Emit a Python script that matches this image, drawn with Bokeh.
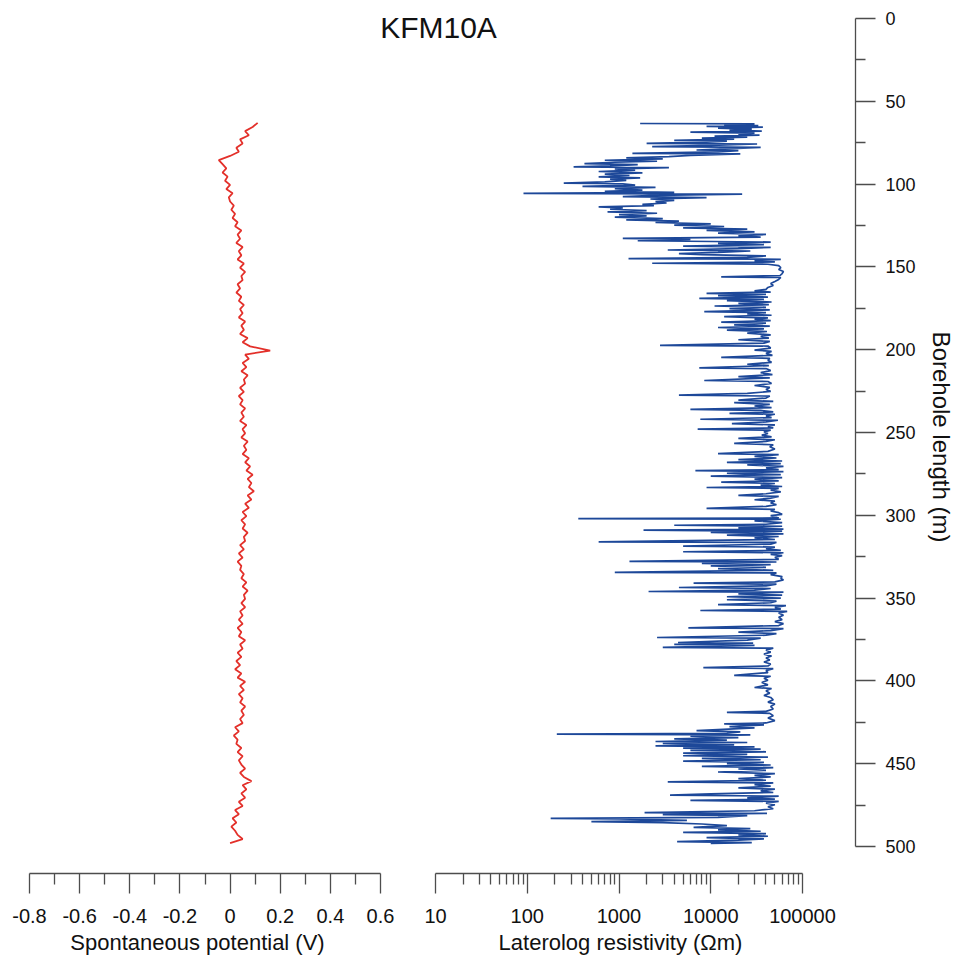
import numpy as np
from bokeh.plotting import figure
from bokeh.layouts import row, column
from bokeh.models import Range1d, FixedTicker, CustomJSTickFormatter, Label
from bokeh.embed import file_html
from bokeh.resources import INLINE

# ---------------------------------------------------------------- data
TITLE = "KFM10A"
SP_LABEL = "Spontaneous potential (V)"
RES_LABEL = "Laterolog resistivity (\u03a9m)"
DEPTH_LABEL = "Borehole length (m)"

sp_ticks = [-0.8, -0.6, -0.4, -0.2, 0.0, 0.2, 0.4, 0.6]
sp_minor = [-0.7, -0.5, -0.3, -0.1, 0.1, 0.3, 0.5]
res_ticks = [10, 100, 1000, 10000, 100000]
res_minor = [m * d for d in (10, 100, 1000, 10000) for m in range(2, 10)]
depth_ticks = list(range(0, 501, 50))
depth_minor = list(range(25, 500, 50))

# spontaneous potential (V), sampled every 2.5 m from 63 m
sp_first_depth = 63.0
sp_step = 2.5
sp_volt = [
    0.11, 0.09, 0.06, 0.075, 0.04, 0.05, 0.025, 0.035, 0.0, -0.045,
    -0.03, -0.015, -0.03, -0.01, -0.02, 0.0, -0.015, 0.01, -0.005, 0.0,
    0.015, 0.005, 0.02, 0.01, 0.03, 0.02, 0.045, 0.03, 0.04, 0.025,
    0.05, 0.035, 0.045, 0.03, 0.055, 0.04, 0.06, 0.045, 0.05, 0.03,
    0.04, 0.025, 0.045, 0.035, 0.055, 0.04, 0.05, 0.035, 0.06, 0.045,
    0.055, 0.04, 0.07, 0.05, 0.08, 0.16, 0.06, 0.075, 0.05, 0.065,
    0.045, 0.07, 0.055, 0.06, 0.04, 0.055, 0.035, 0.05, 0.04, 0.06,
    0.045, 0.055, 0.04, 0.065, 0.05, 0.06, 0.045, 0.07, 0.055, 0.065,
    0.05, 0.075, 0.06, 0.08, 0.065, 0.09, 0.07, 0.085, 0.075, 0.095,
    0.07, 0.085, 0.06, 0.075, 0.05, 0.065, 0.045, 0.06, 0.05, 0.07,
    0.055, 0.06, 0.04, 0.055, 0.035, 0.05, 0.03, 0.045, 0.04, 0.055,
    0.045, 0.065, 0.05, 0.07, 0.055, 0.06, 0.045, 0.06, 0.04, 0.05,
    0.035, 0.05, 0.03, 0.045, 0.035, 0.06, 0.04, 0.05, 0.03, 0.045,
    0.025, 0.04, 0.02, 0.045, 0.03, 0.06, 0.04, 0.055, 0.035, 0.05,
    0.04, 0.06, 0.045, 0.055, 0.04, 0.05, 0.02, 0.035, 0.015, 0.03,
    0.025, 0.045, 0.03, 0.05, 0.035, 0.045, 0.06, 0.04, 0.055, 0.085,
    0.05, 0.065, 0.045, 0.06, 0.035, 0.05, 0.02, 0.035, 0.01, 0.025,
    0.005, 0.02, 0.03, 0.05, 0.0,
]

# laterolog resistivity: depth (m) and ohm-m
res_depth = [
    63.4, 63.6, 64.2, 64.6, 65.2, 65.6, 66.2, 66.8,
    67.4, 68.0, 68.6, 69.2, 69.8, 70.4, 71.0, 71.6,
    72.2, 72.8, 73.6, 74.0, 74.6, 75.4, 75.8, 76.6,
    77.4, 77.8, 78.6, 79.4, 79.8, 80.6, 81.4, 81.8,
    82.6, 83.4, 84.2, 84.8, 85.6, 86.2, 86.8, 87.6,
    88.2, 89.0, 89.6, 90.0, 90.8, 91.6, 92.4, 93.2,
    94.0, 94.8, 95.6, 96.2, 97.0, 97.8, 98.6, 99.4,
    99.8, 100.6, 101.4, 102.0, 102.8, 103.6, 104.4, 105.0,
    105.6, 106.0, 106.8, 107.6, 108.2, 109.0, 109.8, 110.6,
    111.4, 112.2, 113.0, 113.8, 114.4, 115.2, 116.0, 116.8,
    117.6, 118.4, 119.2, 120.0, 120.8, 121.6, 122.4, 123.2,
    124.0, 124.8, 125.6, 126.4, 127.2, 128.0, 128.8, 129.6,
    130.4, 131.2, 132.0, 132.8, 133.4, 134.2, 135.0, 135.8,
    136.6, 137.4, 138.2, 139.0, 139.8, 140.4, 141.2, 142.0,
    142.6, 143.4, 144.2, 145.0, 145.4, 146.2, 147.0, 147.8,
    148.4, 149.2, 150.4, 151.6, 152.8, 154.0, 155.2, 156.0,
    156.4, 157.6, 158.8, 160.0, 161.2, 162.4, 163.6, 164.4,
    165.2, 166.0, 166.6, 167.4, 168.2, 169.0, 169.6, 170.4,
    171.2, 172.0, 172.8, 173.6, 174.4, 175.2, 176.0, 177.0,
    177.6, 178.4, 179.2, 180.0, 180.8, 181.6, 182.4, 183.4,
    184.0, 185.0, 185.8, 186.6, 187.4, 188.2, 189.0, 190.0,
    191.0, 192.0, 193.0, 194.0, 195.0, 196.0, 197.4, 197.8,
    199.0, 200.2, 201.0, 202.2, 203.4, 204.6, 205.2, 206.4,
    207.6, 208.8, 209.6, 211.0, 211.4, 212.6, 213.8, 215.0,
    216.2, 217.0, 218.6, 219.2, 220.4, 221.6, 222.8, 224.0,
    225.2, 226.4, 227.4, 228.0, 229.2, 230.4, 231.2, 232.0,
    233.0, 234.0, 235.0, 236.0, 236.6, 237.6, 238.4, 239.0,
    240.0, 241.0, 242.0, 242.6, 243.6, 244.6, 245.4, 246.4,
    247.2, 248.0, 248.6, 249.6, 250.6, 251.6, 252.6, 253.6,
    254.4, 255.4, 256.6, 257.4, 258.6, 260.0, 261.4, 262.7,
    263.4, 264.4, 265.4, 266.4, 267.2, 268.0, 268.8, 269.6,
    270.4, 271.4, 272.4, 273.0, 273.6, 274.6, 275.4, 276.4,
    277.2, 278.2, 279.2, 280.0, 280.8, 281.8, 282.6, 283.2,
    283.8, 284.8, 285.8, 287.0, 288.0, 288.6, 289.6, 290.6,
    291.4, 292.6, 293.6, 294.6, 295.8, 296.4, 297.4, 298.4,
    299.4, 300.2, 301.6, 302.0, 302.4, 303.4, 304.4, 305.4,
    306.0, 306.6, 307.6, 308.4, 309.0, 309.6, 310.4, 311.2,
    312.0, 312.8, 313.6, 314.6, 316.0, 316.4, 317.4, 318.6,
    319.2, 320.2, 321.2, 322.0, 322.6, 323.6, 324.4, 325.4,
    326.6, 327.8, 328.2, 329.0, 329.8, 330.6, 331.4, 332.2,
    333.2, 334.5, 334.8, 335.8, 337.0, 338.0, 339.0, 340.2,
    341.0, 341.6, 342.6, 343.6, 344.2, 345.2, 346.0, 346.4,
    347.4, 348.2, 349.2, 350.0, 351.0, 351.8, 352.8, 354.0,
    354.6, 355.6, 356.6, 357.5, 358.0, 359.0, 360.4, 361.6,
    363.0, 364.2, 365.4, 366.6, 368.0, 368.4, 369.6, 370.6,
    371.4, 372.4, 373.8, 374.2, 375.4, 376.8, 377.2, 378.0,
    378.6, 379.8, 380.2, 381.4, 382.6, 383.8, 385.0, 386.2,
    387.4, 388.6, 389.8, 391.0, 392.0, 392.6, 393.8, 395.0,
    396.7, 397.2, 398.4, 399.6, 401.0, 402.4, 404.0, 404.6,
    406.0, 407.4, 408.8, 410.0, 411.4, 412.8, 414.0, 415.4,
    417.0, 418.4, 419.0, 419.6, 421.0, 422.4, 424.0, 425.4,
    426.0, 426.6, 427.6, 428.4, 429.4, 430.0, 430.8, 431.6,
    432.2, 432.6, 433.4, 434.2, 435.0, 435.8, 436.6, 437.2,
    437.8, 438.6, 439.2, 439.8, 440.6, 441.2, 442.0, 442.8,
    443.6, 444.4, 445.2, 446.0, 446.8, 447.6, 448.4, 449.2,
    450.0, 450.8, 451.6, 452.4, 453.2, 454.0, 455.0, 456.0,
    457.0, 458.0, 459.0, 460.0, 461.0, 461.6, 462.6, 463.6,
    464.6, 465.4, 466.4, 467.4, 468.2, 469.0, 469.6, 470.6,
    471.4, 472.2, 472.8, 473.8, 474.8, 476.0, 477.2, 478.4,
    479.6, 480.0, 480.8, 481.4, 482.4, 483.0, 483.4, 484.2,
    485.0, 485.6, 486.4, 487.4, 488.4, 489.2, 490.0, 490.8,
    491.5, 492.2, 493.0, 493.8, 494.6, 495.4, 496.2, 497.0,
    497.6, 498.2,
]
res_ohmm = [
    1700, 30000, 14000, 33000, 9000, 37000, 12000, 28000,
    16000, 36000, 6000, 30000, 20000, 34000, 11000, 25000,
    8000, 18000, 4000, 15000, 9000, 2000, 32000, 10000,
    2300, 35000, 17000, 7000, 20000, 12000, 1400, 21000,
    6000, 3500, 1200, 3000, 700, 2600, 900, 420,
    1600, 800, 320, 3500, 900, 1500, 600, 1800,
    700, 1300, 600, 1700, 800, 1200, 700, 250,
    1100, 1500, 400, 2500, 900, 1800, 700, 4000,
    91, 22000, 2500, 1100, 9000, 2200, 4000, 2500,
    3300, 1800, 2400, 600, 1100, 800, 2000, 750,
    2600, 1000, 2000, 900, 3000, 1200, 4500, 2500,
    10000, 4000, 14000, 5000, 25000, 9000, 30000, 12000,
    40000, 20000, 35000, 1100, 6000, 1600, 45000, 12000,
    38000, 5000, 45000, 20000, 3400, 27000, 12000, 4500,
    8000, 40000, 25000, 1270, 58000, 30000, 50000, 2300,
    42000, 55000, 58000, 55000, 62000, 60000, 57000, 13000,
    58000, 55000, 50000, 45000, 48000, 42000, 40000, 30000,
    45000, 9000, 40000, 12000, 42000, 7500, 38000, 15000,
    46000, 20000, 43000, 11000, 40000, 16000, 44000, 8500,
    40000, 25000, 46000, 14000, 42000, 30000, 45000, 13000,
    40000, 18000, 44000, 12000, 38000, 15000, 41000, 25000,
    45000, 35000, 43000, 20000, 44000, 38000, 2800, 42000,
    45000, 30000, 46000, 40000, 47000, 13000, 44000, 42000,
    46000, 25000, 43000, 7500, 40000, 45000, 35000, 47000,
    20000, 44000, 8500, 42000, 46000, 30000, 44000, 40000,
    45000, 25000, 4500, 44000, 40000, 20000, 48000, 18000,
    44000, 30000, 46000, 6000, 35000, 48000, 16000, 50000,
    40000, 46000, 7700, 54000, 40000, 17000, 50000, 42000,
    48000, 7200, 45000, 38000, 42000, 36000, 46000, 20000,
    50000, 40000, 18000, 48000, 44000, 50000, 42000, 12000,
    55000, 30000, 52000, 20000, 60000, 15000, 58000, 25000,
    62000, 40000, 55000, 6800, 62000, 15000, 58000, 10000,
    60000, 30000, 55000, 13000, 50000, 35000, 60000, 9000,
    55000, 45000, 58000, 40000, 20000, 55000, 45000, 30000,
    50000, 45000, 52000, 40000, 9000, 50000, 45000, 55000,
    60000, 45000, 55000, 360, 58000, 30000, 60000, 40000,
    4000, 60000, 20000, 62000, 1850, 60000, 10000, 62000,
    15000, 55000, 30000, 50000, 600, 52000, 45000, 5000,
    50000, 40000, 58000, 5000, 62000, 45000, 60000, 50000,
    55000, 1300, 52000, 8000, 45000, 10000, 40000, 12000,
    48000, 900, 52000, 45000, 60000, 58000, 62000, 50000,
    6500, 52000, 40000, 4500, 45000, 30000, 2100, 62000,
    20000, 60000, 15000, 58000, 15000, 52000, 45000, 12000,
    66000, 50000, 58000, 7700, 68000, 55000, 62000, 55000,
    60000, 50000, 62000, 55000, 5700, 62000, 45000, 20000,
    52000, 40000, 2600, 35000, 25000, 4400, 29000, 4000,
    30000, 3000, 48000, 40000, 45000, 38000, 46000, 40000,
    44000, 38000, 45000, 42000, 8300, 48000, 40000, 42000,
    18000, 45000, 38000, 42000, 36000, 42000, 30000, 46000,
    40000, 44000, 38000, 45000, 48000, 42000, 50000, 45000,
    48000, 40000, 15000, 44000, 48000, 42000, 50000, 40000,
    14000, 38000, 16000, 30000, 12000, 7000, 21000, 15000,
    210, 27000, 6000, 20000, 4000, 15000, 2500, 25000,
    3000, 18000, 2500, 30000, 5000, 35000, 6000, 40000,
    5000, 25000, 5000, 42000, 8000, 35000, 5000, 38000,
    15000, 45000, 8000, 48000, 20000, 40000, 12000, 50000,
    30000, 45000, 20000, 40000, 3400, 48000, 30000, 45000,
    20000, 50000, 35000, 48000, 10000, 3600, 55000, 25000,
    50000, 6000, 55000, 40000, 50000, 42000, 48000, 30000,
    1900, 41000, 3000, 25000, 12000, 180, 1000, 5500,
    500, 3000, 8000, 15000, 6500, 27000, 12000, 35000,
    5000, 40000, 20000, 42000, 9000, 38000, 20000, 4300,
    28000, 10000,
]

sp_depth = sp_first_depth + sp_step * np.arange(len(sp_volt))

# ---------------------------------------------------------------- layout
W, H = 957, 960
TITLE_H = 70                 # strip holding the title
PANEL_H = H - TITLE_H
Y_DEPTH0 = 18                # page y of 0 m
Y_DEPTH500 = 846             # page y of 500 m
Y_XAXIS = 873                # page y of the two horizontal axes
PX_PER_M = (Y_DEPTH500 - Y_DEPTH0) / 500.0
DEPTH_AT_PANEL_TOP = (TITLE_H - Y_DEPTH0) / PX_PER_M
DEPTH_AT_XAXIS = (Y_XAXIS - Y_DEPTH0) / PX_PER_M

FONT = "Liberation Sans"
AXIS_COLOR = "#4d4d4d"
TEXT_COLOR = "#111111"
SP_COLOR = "#e3302a"
RES_COLOR = "#1d4899"

SP_W = 415                   # page x 0 .. 415
SP_X_08 = 29                 # page x of -0.8 V
SP_X_06 = 380                # page x of 0.6 V
SP_FRAME_LEFT, SP_FRAME_RIGHT = 0, 394
RES_W = 430                  # page x 415 .. 845
RES_X_10 = 435               # page x of 10 ohm-m
RES_X_1E5 = 802              # page x of 100000 ohm-m
RES_FRAME_LEFT, RES_FRAME_RIGHT = 415, 825
DEPTH_W = W - SP_W - RES_W   # page x 845 .. 957
DEPTH_AXIS_X = 855
DEPTH_FRAME_BOTTOM = 855


def bottom_axis_style(ax, ticks, minor, bounds, label, fmt):
    ax.ticker = FixedTicker(ticks=ticks, minor_ticks=minor)
    ax.formatter = CustomJSTickFormatter(code=fmt)
    ax.bounds = bounds
    ax.axis_label = label
    ax.axis_label_text_font = FONT
    ax.axis_label_text_font_size = "22px"
    ax.axis_label_text_font_style = "normal"
    ax.axis_label_text_color = TEXT_COLOR
    ax.axis_label_standoff = 4
    ax.major_label_text_font = FONT
    ax.major_label_text_font_size = "20px"
    ax.major_label_text_color = TEXT_COLOR
    ax.major_label_standoff = 15
    ax.axis_line_color = AXIS_COLOR
    ax.axis_line_width = 1.3
    ax.major_tick_line_color = AXIS_COLOR
    ax.major_tick_line_width = 1.3
    ax.minor_tick_line_color = AXIS_COLOR
    ax.minor_tick_line_width = 1.3
    ax.major_tick_in = 0
    ax.major_tick_out = 20
    ax.minor_tick_in = 0
    ax.minor_tick_out = 11


def bare(p):
    p.outline_line_color = None
    p.xgrid.visible = False
    p.ygrid.visible = False
    p.background_fill_color = "white"
    p.border_fill_color = "white"


# title strip
title_fig = figure(width=SP_W + RES_W, height=TITLE_H,
                   x_range=Range1d(0, SP_W + RES_W), y_range=Range1d(0, TITLE_H),
                   x_axis_location=None, y_axis_location=None,
                   min_border=0, output_backend="svg", toolbar_location=None)
bare(title_fig)
title_fig.add_layout(Label(x=438, y=TITLE_H - 27, text=TITLE,
                           text_align="center", text_baseline="middle",
                           text_font=FONT, text_font_size="30px",
                           text_color=TEXT_COLOR))

# spontaneous potential panel
sp_px_per_v = (SP_X_06 - SP_X_08) / 1.4
sp_fig = figure(width=SP_W, height=PANEL_H,
                x_range=Range1d(-0.8 - (SP_X_08 - SP_FRAME_LEFT) / sp_px_per_v,
                                0.6 + (SP_FRAME_RIGHT - SP_X_06) / sp_px_per_v),
                y_range=Range1d(DEPTH_AT_XAXIS, DEPTH_AT_PANEL_TOP),
                y_axis_location=None,
                min_border_left=SP_FRAME_LEFT, min_border_right=SP_W - SP_FRAME_RIGHT,
                min_border_top=0, min_border_bottom=H - Y_XAXIS,
                output_backend="svg", toolbar_location=None)
bare(sp_fig)
sp_fig.line(sp_volt, sp_depth, line_color=SP_COLOR, line_width=1.8)
bottom_axis_style(sp_fig.xaxis[0], sp_ticks, sp_minor, (-0.8, 0.6), SP_LABEL,
                  "return tick == 0 ? '0' : tick.toFixed(1);")

# laterolog resistivity panel
res_px_per_decade = (RES_X_1E5 - RES_X_10) / 4.0
res_fig = figure(width=RES_W, height=PANEL_H, x_axis_type="log",
                 x_range=Range1d(10 ** (1 - (RES_X_10 - RES_FRAME_LEFT) / res_px_per_decade),
                                 10 ** (5 + (RES_FRAME_RIGHT - RES_X_1E5) / res_px_per_decade)),
                 y_range=Range1d(DEPTH_AT_XAXIS, DEPTH_AT_PANEL_TOP),
                 y_axis_location=None,
                 min_border_left=RES_FRAME_LEFT - SP_W,
                 min_border_right=SP_W + RES_W - RES_FRAME_RIGHT,
                 min_border_top=0, min_border_bottom=H - Y_XAXIS,
                 output_backend="svg", toolbar_location=None)
bare(res_fig)
res_fig.line(res_ohmm, res_depth, line_color=RES_COLOR, line_width=1.7)
bottom_axis_style(res_fig.xaxis[0], res_ticks, res_minor, (10, 100000), RES_LABEL,
                  "return tick.toFixed(0);")

# borehole length axis
depth_fig = figure(width=DEPTH_W, height=H,
                   x_range=Range1d(0, 1),
                   y_range=Range1d((DEPTH_FRAME_BOTTOM - Y_DEPTH0) / PX_PER_M, 0),
                   x_axis_location=None, y_axis_location="right",
                   min_border_left=0,
                   min_border_right=DEPTH_W - (DEPTH_AXIS_X - SP_W - RES_W),
                   min_border_top=Y_DEPTH0, min_border_bottom=H - DEPTH_FRAME_BOTTOM,
                   output_backend="svg", toolbar_location=None)
bare(depth_fig)
yax = depth_fig.yaxis[0]
yax.ticker = FixedTicker(ticks=depth_ticks, minor_ticks=depth_minor)
yax.bounds = (0, 500)
yax.axis_label = DEPTH_LABEL
yax.axis_label_text_font = FONT
yax.axis_label_text_font_size = "24px"
yax.axis_label_text_font_style = "normal"
yax.axis_label_text_color = TEXT_COLOR
yax.axis_label_standoff = 9
yax.major_label_text_font = FONT
yax.major_label_text_font_size = "18px"
yax.major_label_text_color = TEXT_COLOR
yax.major_label_standoff = 10
yax.axis_line_color = AXIS_COLOR
yax.axis_line_width = 1.3
yax.major_tick_line_color = AXIS_COLOR
yax.major_tick_line_width = 1.3
yax.minor_tick_line_color = AXIS_COLOR
yax.minor_tick_line_width = 1.3
yax.major_tick_in = 0
yax.major_tick_out = 20
yax.minor_tick_in = 0
yax.minor_tick_out = 10

layout = row(column(title_fig, row(sp_fig, res_fig)), depth_fig)

with open("out.html", "w") as f:
    f.write(file_html(layout, INLINE, title=TITLE))
